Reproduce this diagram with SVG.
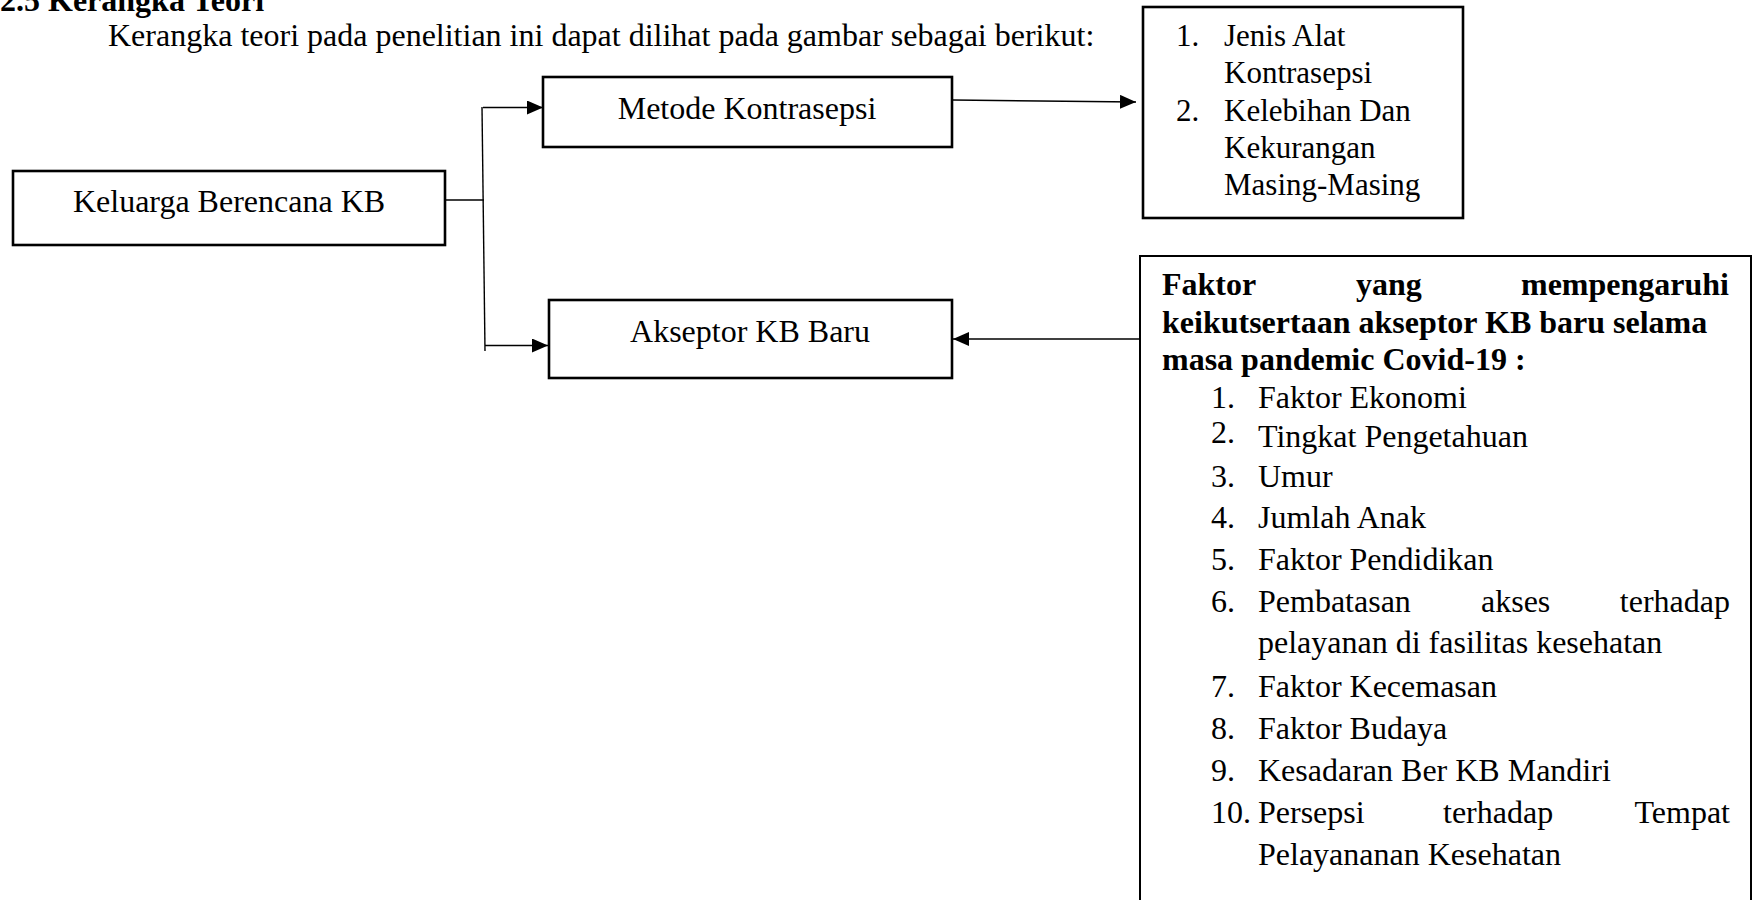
<svg xmlns="http://www.w3.org/2000/svg" width="1757" height="900" viewBox="0 0 1757 900">
<style>
text{font-family:"Liberation Serif","Times New Roman",serif;font-size:32px;fill:#000}
.b{font-weight:bold}
.s31{font-size:31px}
.box{fill:#fff;stroke:#000;stroke-width:2.6}
.box2{fill:#fff;stroke:#000;stroke-width:2}
.c{stroke:#000;stroke-width:1.4;fill:none}
.mid{text-anchor:middle}
.end{text-anchor:end}
</style>
<defs>
<marker id="ah" viewBox="0 0 16 14" refX="16" refY="7" markerWidth="16" markerHeight="14" markerUnits="userSpaceOnUse" orient="auto">
<path d="M0,0 L16,7 L0,14 z" fill="#000"/>
</marker>
</defs>
<rect width="1757" height="900" fill="#fff"/>
<g id="heading">
<text class="b" x="0" y="11">2.5 Kerangka Teori</text>
<text x="108" y="46">Kerangka teori pada penelitian ini dapat dilihat pada gambar sebagai berikut:</text>
</g>
<g id="connectors">
<line class="c" x1="445" y1="200" x2="484" y2="200"/>
<line class="c" x1="482" y1="107" x2="485" y2="351"/>
<line class="c" x1="483" y1="107.5" x2="543" y2="107.5" marker-end="url(#ah)"/>
<line class="c" x1="485" y1="345.5" x2="548" y2="345.5" marker-end="url(#ah)"/>
<line class="c" x1="953" y1="100" x2="1136" y2="102" marker-end="url(#ah)"/>
<line class="c" x1="1140" y1="339" x2="953" y2="339" marker-end="url(#ah)"/>
</g>
<g id="keluarga">
<rect class="box" x="13" y="171" width="432" height="74"/>
<text class="mid" x="229" y="212">Keluarga Berencana KB</text>
</g>
<g id="metode">
<rect class="box" x="543" y="77" width="409" height="70"/>
<text class="mid" x="747" y="119">Metode Kontrasepsi</text>
</g>
<g id="akseptor">
<rect class="box" x="549" y="300" width="403" height="78"/>
<text class="mid" x="750" y="342">Akseptor KB Baru</text>
</g>
<g id="jenis">
<rect class="box" x="1143" y="7" width="320" height="211"/>
<text class="s31" x="1176" y="46">1.</text>
<text class="s31" x="1224" y="46">Jenis Alat</text>
<text class="s31" x="1224" y="83">Kontrasepsi</text>
<text class="s31" x="1176" y="121">2.</text>
<text class="s31" x="1224" y="121">Kelebihan Dan</text>
<text class="s31" x="1224" y="158">Kekurangan</text>
<text class="s31" x="1224" y="195">Masing-Masing</text>
</g>
<g id="faktor">
<rect class="box2" x="1140" y="256" width="611" height="660"/>
<text class="b" x="1162" y="295">Faktor</text>
<text class="b" x="1356" y="295">yang</text>
<text class="b end" x="1729" y="295">mempengaruhi</text>
<text class="b" x="1162" y="333">keikutsertaan akseptor KB baru selama</text>
<text class="b" x="1162" y="370">masa pandemic Covid-19 :</text>
<text x="1211" y="408">1.</text><text x="1258" y="408">Faktor Ekonomi</text>
<text x="1211" y="443">2.</text><text x="1258" y="447">Tingkat Pengetahuan</text>
<text x="1211" y="487">3.</text><text x="1258" y="487">Umur</text>
<text x="1211" y="528">4.</text><text x="1258" y="528">Jumlah Anak</text>
<text x="1211" y="570">5.</text><text x="1258" y="570">Faktor Pendidikan</text>
<text x="1211" y="612">6.</text><text x="1258" y="612">Pembatasan</text>
<text x="1481" y="612">akses</text>
<text class="end" x="1730" y="612">terhadap</text>
<text x="1258" y="653">pelayanan di fasilitas kesehatan</text>
<text x="1211" y="697">7.</text><text x="1258" y="697">Faktor Kecemasan</text>
<text x="1211" y="739">8.</text><text x="1258" y="739">Faktor Budaya</text>
<text x="1211" y="781">9.</text><text x="1258" y="781">Kesadaran Ber KB Mandiri</text>
<text x="1211" y="823">10.</text><text x="1258" y="823">Persepsi</text>
<text x="1443" y="823">terhadap</text>
<text class="end" x="1730" y="823">Tempat</text>
<text x="1258" y="865">Pelayananan Kesehatan</text>
</g>
</svg>
